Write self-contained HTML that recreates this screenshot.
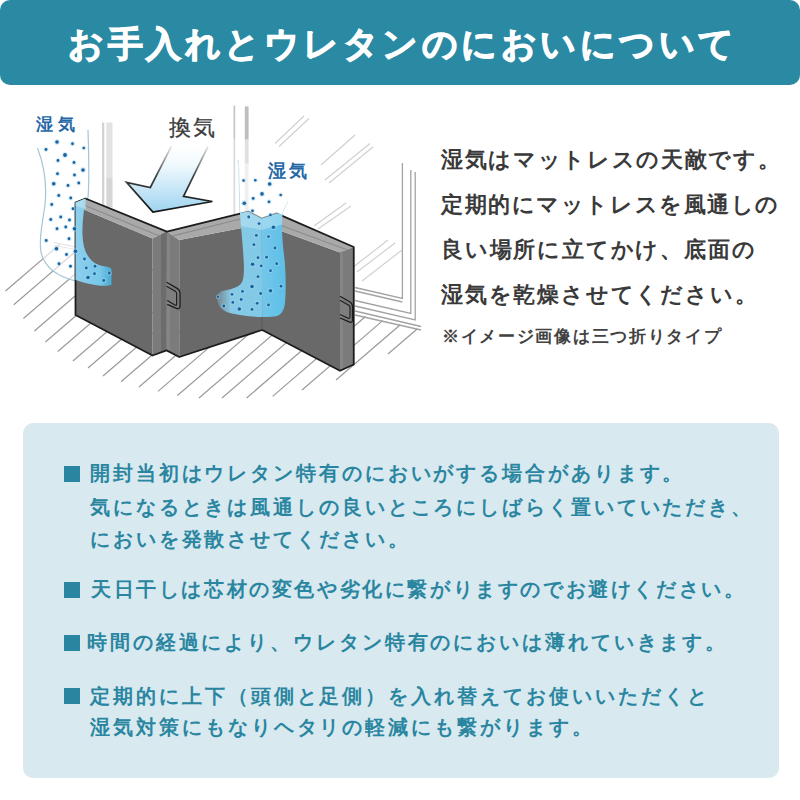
<!DOCTYPE html>
<html><head><meta charset="utf-8">
<style>
html,body{margin:0;padding:0;background:#fff;}
body{width:800px;height:800px;position:relative;overflow:hidden;font-family:"Liberation Sans",sans-serif;}
.hdr{position:absolute;left:0;top:0;width:800px;height:84.5px;background:#2a8aa4;border-radius:10px;}
.hdr .t{position:absolute;left:68px;top:23px;font-size:35px;line-height:42px;font-weight:bold;color:#fff;letter-spacing:3.5px;white-space:nowrap;-webkit-text-stroke:1.1px #fff;}
.desc{position:absolute;left:441px;white-space:nowrap;color:#3a3a3a;font-size:22px;line-height:26px;letter-spacing:2.3px;font-weight:bold;}
.note{position:absolute;left:442px;white-space:nowrap;color:#424242;font-size:17px;line-height:20px;letter-spacing:1.7px;font-weight:bold;}
.box{position:absolute;left:23px;top:423px;width:756px;height:355px;background:#d8e9f0;border-radius:10px;}
.ln{position:absolute;white-space:nowrap;color:#2a86a0;font-size:20px;line-height:24px;letter-spacing:2.4px;font-weight:bold;}
.sq{position:absolute;left:64px;width:16px;height:16px;background:#2a86a0;}
svg{position:absolute;left:0;top:0;}
</style></head><body>
<div class="hdr"><div class="t">お手入れとウレタンのにおいについて</div></div>

<svg width="440" height="420" viewBox="0 0 440 420" id="ill"><defs><linearGradient id="arrowG" x1="0" y1="0" x2="0" y2="1"><stop offset="0" stop-color="#fff"/><stop offset="0.3" stop-color="#eef8fd"/><stop offset="1" stop-color="#9fd4f0"/></linearGradient><linearGradient id="arrowS" gradientUnits="userSpaceOnUse" x1="0" y1="146" x2="0" y2="212"><stop offset="0" stop-color="#222" stop-opacity="0.1"/><stop offset="0.45" stop-color="#222" stop-opacity="0.85"/><stop offset="1" stop-color="#111"/></linearGradient><linearGradient id="vlineG" gradientUnits="userSpaceOnUse" x1="0" y1="100" x2="0" y2="215"><stop offset="0" stop-color="#bbb" stop-opacity="0"/><stop offset="0.35" stop-color="#bdbdbd"/><stop offset="1" stop-color="#aaa"/></linearGradient><linearGradient id="blueL" x1="0" y1="0" x2="1" y2="0"><stop offset="0" stop-color="#8fd4f2"/><stop offset="0.7" stop-color="#76cbee"/><stop offset="1" stop-color="#45b8e8" stop-opacity="0.85"/></linearGradient><linearGradient id="blueM" gradientUnits="userSpaceOnUse" x1="214" y1="0" x2="262" y2="0"><stop offset="0" stop-color="#8fd3f0" stop-opacity="0.1"/><stop offset="0.35" stop-color="#88cfec" stop-opacity="0.95"/><stop offset="1" stop-color="#80c9e6"/></linearGradient><linearGradient id="blueR" gradientUnits="userSpaceOnUse" x1="262" y1="0" x2="286" y2="0"><stop offset="0" stop-color="#74ccf0"/><stop offset="1" stop-color="#5cc3ee"/></linearGradient></defs><rect x="102" y="122.5" width="2.3" height="85" fill="#d2d2d2"/><rect x="106.3" y="122.5" width="6.2" height="55" fill="#e3e3e3"/><rect x="106.3" y="177.5" width="6.2" height="30" fill="#d6d6d6"/><rect x="233.5" y="105.6" width="1.7" height="33.5" fill="#c6c6c6"/><rect x="233.5" y="139" width="1.7" height="80" fill="#dadada"/><rect x="244.8" y="106.4" width="3.8" height="33.3" fill="#bebebe"/><rect x="244.8" y="139.7" width="3.8" height="80" fill="#e0e0e0"/><g stroke="#a3a3a3" stroke-width="1.3" fill="none"><polyline points="402.4,163 402.4,298.5 355,287.5"/><polyline points="355,291 402.4,302"/><polyline points="410.8,170 410.8,313.5 355,300.5"/><polyline points="415.2,172 415.2,320 355,306"/><polyline points="355,311 421,326.5"/><polyline points="355,315 421,330"/></g><g stroke="#cfcfcf" stroke-width="1.1"><line x1="275" y1="143.5" x2="304" y2="116"/><line x1="279" y1="146.5" x2="309" y2="118.5"/><line x1="321" y1="165" x2="355" y2="135"/><line x1="325" y1="180" x2="370" y2="143.5"/><line x1="329" y1="183" x2="373" y2="147"/><line x1="314" y1="226" x2="346" y2="203"/><line x1="318" y1="229" x2="351" y2="206"/><line x1="352" y1="268" x2="388" y2="240"/><line x1="357" y1="272" x2="395" y2="243"/><line x1="362" y1="281" x2="402" y2="250"/></g><g stroke="#999" stroke-width="1.15" fill="none"><line x1="5.5" y1="291" x2="59.7" y2="244.4"/><line x1="13.75" y1="304.75" x2="78.8" y2="248.8"/><line x1="23.4" y1="318.5" x2="98.9" y2="253.6"/><line x1="34.4" y1="331" x2="118.9" y2="258.3"/><line x1="45.4" y1="342" x2="137.6" y2="262.7"/><line x1="57.75" y1="351.5" x2="155.9" y2="267.1"/><line x1="72.9" y1="361" x2="176.5" y2="271.9"/><line x1="88" y1="368" x2="194.7" y2="276.2"/><line x1="103" y1="376" x2="213.8" y2="280.7"/><line x1="121" y1="381.75" x2="233.2" y2="285.3"/><line x1="139" y1="387" x2="252.1" y2="289.8"/><line x1="158" y1="391.4" x2="271.0" y2="294.2"/><line x1="177.4" y1="395.5" x2="290.0" y2="298.7"/><line x1="199" y1="398" x2="309.2" y2="303.2"/><line x1="222" y1="398" x2="327.2" y2="307.5"/><line x1="246.6" y1="398" x2="346.5" y2="312.0"/><line x1="272.6" y1="396.4" x2="365.5" y2="316.5"/><line x1="302" y1="390" x2="382.7" y2="320.6"/><line x1="336" y1="380" x2="400.3" y2="324.7"/><line x1="388" y1="354" x2="417.4" y2="328.8"/></g><line x1="54" y1="242.5" x2="76" y2="247" stroke="#aaa" stroke-width="0.9"/><line x1="54" y1="245.6" x2="76" y2="249.5" stroke="#bbb" stroke-width="0.9"/><path d="M37.5,148 C44,165 47,185 45,205 C42,225 39,240 41,252 C44,266 55,276 76,281 L76,203 L88,198 C89,185 89,160 88,130" fill="#fff" fill-opacity="0.6" stroke="#a2c6d8" stroke-width="1.2"/><rect x="30" y="125" width="65" height="22" fill="#fff" opacity="0.0"/><path d="M171.3,146.4 L150.3,187.5 L126.6,182.3 L152.9,212 L212.4,201.5 L183.5,196.3 L208,146.4 Z" fill="url(#arrowG)"/><path d="M171.3,146.4 L150.3,187.5 L126.6,182.3 L152.9,212 L212.4,201.5 L183.5,196.3 L208,146.4" fill="none" stroke="url(#arrowS)" stroke-width="1.7" stroke-linejoin="miter"/><path d="M75.5,206 L152.5,238.4 L152.5,355.5 L75.5,315 Z" fill="#696969"/><path d="M75.5,202.5 L85.5,198.5 L166.9,231.6 L152.5,238.4 L75.5,206 Z" fill="#a9a9a9"/><path d="M80,203.5 L159,235.8" stroke="#8d8d8d" stroke-width="1.2"/><path d="M152.5,238.4 L166.9,231.6 L166.6,350.4 L152.5,355.5 Z" fill="#7b7b7b"/><path d="M161,234.4 L166.9,231.6 L166.6,350.4 L161,352.5 Z" fill="#6c6c6c"/><path d="M166.9,231.6 L179.3,240 L179.3,357 L166.6,350.4 Z" fill="#7b7b7b"/><path d="M166.9,231.6 L170,233.7 L170,352 L166.6,350.4 Z" fill="#858585"/><path d="M179.3,240 L262,224 L262.2,330 L179.3,357 Z" fill="#696969"/><path d="M166.9,231.6 L248.2,211.6 L261.75,218.6 L262,224 L179.3,240 Z" fill="#a9a9a9"/><path d="M173,235.8 L254.5,215.5" stroke="#8d8d8d" stroke-width="1.2"/><path d="M262,224 L340,252.5 L340,370.75 L262.2,330 Z" fill="#696969"/><path d="M261.75,218.6 L276.6,213.4 L353.75,247 L340,252.5 L262,224 Z" fill="#a9a9a9"/><path d="M269,221 L347,249.8" stroke="#8d8d8d" stroke-width="1.2"/><path d="M340,252.5 L353.75,247 L353.75,364.5 L340,370.75 Z" fill="#7b7b7b"/><path d="M340,252.5 L343,251.3 L343,369.4 L340,370.75 Z" fill="#858585"/><path d="M75.5,315 L75.5,202.5 L85.5,198.5 L166.9,231.6 L248.2,211.6 L261.75,218.6 L276.6,213.4 L353.75,247 L353.75,364.5 L340,370.75 L262.2,330 L179.3,357 L166.6,350.4 L152.5,355.5 Z" fill="none" stroke="#1c1c1c" stroke-width="1.8" stroke-linejoin="round"/><path d="M262,224 L262.2,330" stroke="#4a4a4a" stroke-width="0.8"/><path d="M167,286.5 L175.5,291.5 L176.5,292.5 L176.5,305 L167,300.8 Z" fill="#7e7e7e"/><path d="M166.6,282.2 L177.5,288.6 Q180,290.2 180,293 L180,306 Q180,309 177,308.6 L167.2,304.4" fill="none" stroke="#1c1c1c" stroke-width="1.3"/><path d="M166.6,286.3 L175.3,291.2 Q176.6,292 176.6,293.5 L176.6,304.5 Q176.6,305.6 175.4,305.2 L167.2,300.6" fill="none" stroke="#1c1c1c" stroke-width="1.1"/><path d="M340,300.3 L349,305 L350,306 L350,318 L340,314.5 Z" fill="#7e7e7e"/><path d="M340,296.3 L349.6,301.8 Q352.5,303.5 352.5,306.5 L352.5,320 Q352.5,323 349.8,322.2 L340,318" fill="none" stroke="#1c1c1c" stroke-width="1.3"/><path d="M340,300.3 L348.4,305 Q350,306 350,307.5 L350,316.8 Q350,318.8 348.2,318.2 L340,314.5" fill="none" stroke="#1c1c1c" stroke-width="1.1"/><path d="M75.5,202.5 L85.5,198.5 C84,210 82,222 82.5,235 C83,250 88,261 99,265 C105,267 110,266.5 111.5,269 L111.5,285 C105,287 90,285 75.5,280 Z" fill="url(#blueL)" fill-opacity="0.96"/><path d="M75.5,202.5 L85.5,198.5 L86,209 L75.5,206 Z" fill="#bfe3f3" fill-opacity="0.6"/><path d="M238,160 C240,180 239,200 240,213 M288,201 C286,206 283,210 282,214.6" fill="none" stroke="#b8d6e4" stroke-width="0.9"/><path d="M238,162 C240,185 239.5,203 240,213 L248.2,211.6 L261.75,218.6 L276.6,213.4 L282.4,215.5 C284,208 288,203 290,198 L290,170 Z" fill="#fff" fill-opacity="0.5"/><path d="M240,213 L248.2,211.6 L261.75,218.6 L262.2,317 C250,317 240,315 232,313.5 C224,312 219.5,308 218,303 C216,297 216,294 222,291 C230,289.5 238,288 241.5,283 C245,277 244,265 243,250 C242,235 240.5,222 240,213 Z" fill="url(#blueM)"/><path d="M261.75,218.6 L276.6,213.4 L282.4,214.6 C281.5,225 282,240 284.6,260 C286,275 286,292 285,303 C284,312 280,316 274,316.5 C270,317 266,317 262.2,317 Z" fill="url(#blueR)" fill-opacity="0.95"/><path d="M240,213 L248.2,211.6 L261.75,218.6 L276.6,213.4 L282.4,214.6 L282,224.5 L262,230 L241,226 Z" fill="#c7e8f6" fill-opacity="0.45"/><g fill="#a8d8f0" fill-opacity="0.45"><circle cx="57" cy="142" r="2.9000000000000004"/><circle cx="72.5" cy="143.75" r="2.5"/><circle cx="46" cy="149.5" r="2.5"/><circle cx="83.75" cy="148" r="2.4000000000000004"/><circle cx="65" cy="155" r="3.0"/><circle cx="58" cy="160.5" r="2.5"/><circle cx="74" cy="162.5" r="2.5"/><circle cx="83" cy="170" r="2.9000000000000004"/><circle cx="57.5" cy="173.75" r="2.5"/><circle cx="74.5" cy="175" r="2.5"/><circle cx="53.75" cy="183.75" r="2.9000000000000004"/><circle cx="68" cy="185.5" r="2.5"/><circle cx="78.75" cy="183" r="2.5"/><circle cx="58.75" cy="195.5" r="2.5"/><circle cx="70.75" cy="198" r="2.5"/><circle cx="51.75" cy="204.5" r="2.5"/><circle cx="73" cy="208.75" r="2.5"/><circle cx="60.75" cy="217" r="2.5"/><circle cx="50.75" cy="219.5" r="2.5"/><circle cx="69.5" cy="220" r="2.5"/><circle cx="65.75" cy="227" r="2.5"/><circle cx="57" cy="228.75" r="2.5"/><circle cx="74.5" cy="228.75" r="2.9000000000000004"/><circle cx="69" cy="238.75" r="2.5"/><circle cx="46.25" cy="240.5" r="2.5"/><circle cx="56.5" cy="248.75" r="2.9000000000000004"/><circle cx="75.5" cy="251.25" r="2.9000000000000004"/><circle cx="66.5" cy="254.5" r="2.5"/><circle cx="59" cy="263.75" r="2.5"/><circle cx="70.5" cy="266.25" r="2.5"/><circle cx="84.5" cy="259" r="2.5"/><circle cx="86.25" cy="268" r="2.5"/><circle cx="95" cy="266.25" r="2.5"/><circle cx="94.5" cy="273.75" r="2.5"/><circle cx="88" cy="277.5" r="2.9000000000000004"/><circle cx="103.75" cy="280.5" r="2.5"/><circle cx="109.25" cy="273" r="2.5"/><circle cx="243.6" cy="180.5" r="2.4000000000000004"/><circle cx="255.3" cy="180.2" r="2.4000000000000004"/><circle cx="269.7" cy="184" r="2.9000000000000004"/><circle cx="262" cy="193.9" r="2.9000000000000004"/><circle cx="253.2" cy="198.4" r="2.5"/><circle cx="244.3" cy="203.2" r="2.9000000000000004"/><circle cx="269" cy="201.8" r="2.5"/><circle cx="280.7" cy="195" r="2.4000000000000004"/><circle cx="252.5" cy="210.8" r="2.5"/><circle cx="270.4" cy="214.9" r="2.4000000000000004"/><circle cx="248.7" cy="217" r="2.5"/><circle cx="259.1" cy="223.6" r="2.5"/><circle cx="273.4" cy="227.3" r="2.9000000000000004"/><circle cx="256.3" cy="235.4" r="2.5"/><circle cx="268.5" cy="236.6" r="2.5"/><circle cx="253.9" cy="244.7" r="2.5"/><circle cx="275" cy="248" r="2.5"/><circle cx="258" cy="257.7" r="2.5"/><circle cx="266.6" cy="257.2" r="2.5"/><circle cx="252.6" cy="264.2" r="2.9000000000000004"/><circle cx="261.2" cy="265.9" r="2.5"/><circle cx="276.7" cy="263.7" r="2.5"/><circle cx="270.5" cy="270.7" r="2.5"/><circle cx="258" cy="276.7" r="2.5"/><circle cx="281" cy="286.2" r="2.5"/><circle cx="252" cy="286.5" r="2.9000000000000004"/><circle cx="270.5" cy="290.7" r="2.9000000000000004"/><circle cx="232" cy="294.3" r="2.5"/><circle cx="242.5" cy="291.4" r="2.5"/><circle cx="260.7" cy="293.5" r="2.5"/><circle cx="218.1" cy="296.7" r="2.3"/><circle cx="241.2" cy="299.5" r="2.5"/><circle cx="232.8" cy="302.4" r="2.5"/><circle cx="257.2" cy="303.3" r="2.5"/><circle cx="223.8" cy="306" r="2.5"/><circle cx="268.5" cy="304.9" r="2.5"/><circle cx="239.3" cy="309" r="2.9000000000000004"/><circle cx="252" cy="309.4" r="2.5"/></g><g fill="#1a62a0"><circle cx="57" cy="142" r="1.8"/><circle cx="72.5" cy="143.75" r="1.4"/><circle cx="46" cy="149.5" r="1.4"/><circle cx="83.75" cy="148" r="1.3"/><circle cx="65" cy="155" r="1.9"/><circle cx="58" cy="160.5" r="1.4"/><circle cx="74" cy="162.5" r="1.4"/><circle cx="83" cy="170" r="1.8"/><circle cx="57.5" cy="173.75" r="1.4"/><circle cx="74.5" cy="175" r="1.4"/><circle cx="53.75" cy="183.75" r="1.8"/><circle cx="68" cy="185.5" r="1.4"/><circle cx="78.75" cy="183" r="1.4"/><circle cx="58.75" cy="195.5" r="1.4"/><circle cx="70.75" cy="198" r="1.4"/><circle cx="51.75" cy="204.5" r="1.4"/><circle cx="73" cy="208.75" r="1.4"/><circle cx="60.75" cy="217" r="1.4"/><circle cx="50.75" cy="219.5" r="1.4"/><circle cx="69.5" cy="220" r="1.4"/><circle cx="65.75" cy="227" r="1.4"/><circle cx="57" cy="228.75" r="1.4"/><circle cx="74.5" cy="228.75" r="1.8"/><circle cx="69" cy="238.75" r="1.4"/><circle cx="46.25" cy="240.5" r="1.4"/><circle cx="56.5" cy="248.75" r="1.8"/><circle cx="75.5" cy="251.25" r="1.8"/><circle cx="66.5" cy="254.5" r="1.4"/><circle cx="59" cy="263.75" r="1.4"/><circle cx="70.5" cy="266.25" r="1.4"/><circle cx="84.5" cy="259" r="1.4"/><circle cx="86.25" cy="268" r="1.4"/><circle cx="95" cy="266.25" r="1.4"/><circle cx="94.5" cy="273.75" r="1.4"/><circle cx="88" cy="277.5" r="1.8"/><circle cx="103.75" cy="280.5" r="1.4"/><circle cx="109.25" cy="273" r="1.4"/><circle cx="243.6" cy="180.5" r="1.3"/><circle cx="255.3" cy="180.2" r="1.3"/><circle cx="269.7" cy="184" r="1.8"/><circle cx="262" cy="193.9" r="1.8"/><circle cx="253.2" cy="198.4" r="1.4"/><circle cx="244.3" cy="203.2" r="1.8"/><circle cx="269" cy="201.8" r="1.4"/><circle cx="280.7" cy="195" r="1.3"/><circle cx="252.5" cy="210.8" r="1.4"/><circle cx="270.4" cy="214.9" r="1.3"/><circle cx="248.7" cy="217" r="1.4"/><circle cx="259.1" cy="223.6" r="1.4"/><circle cx="273.4" cy="227.3" r="1.8"/><circle cx="256.3" cy="235.4" r="1.4"/><circle cx="268.5" cy="236.6" r="1.4"/><circle cx="253.9" cy="244.7" r="1.4"/><circle cx="275" cy="248" r="1.4"/><circle cx="258" cy="257.7" r="1.4"/><circle cx="266.6" cy="257.2" r="1.4"/><circle cx="252.6" cy="264.2" r="1.8"/><circle cx="261.2" cy="265.9" r="1.4"/><circle cx="276.7" cy="263.7" r="1.4"/><circle cx="270.5" cy="270.7" r="1.4"/><circle cx="258" cy="276.7" r="1.4"/><circle cx="281" cy="286.2" r="1.4"/><circle cx="252" cy="286.5" r="1.8"/><circle cx="270.5" cy="290.7" r="1.8"/><circle cx="232" cy="294.3" r="1.4"/><circle cx="242.5" cy="291.4" r="1.4"/><circle cx="260.7" cy="293.5" r="1.4"/><circle cx="218.1" cy="296.7" r="1.2"/><circle cx="241.2" cy="299.5" r="1.4"/><circle cx="232.8" cy="302.4" r="1.4"/><circle cx="257.2" cy="303.3" r="1.4"/><circle cx="223.8" cy="306" r="1.4"/><circle cx="268.5" cy="304.9" r="1.4"/><circle cx="239.3" cy="309" r="1.8"/><circle cx="252" cy="309.4" r="1.4"/></g><text x="36" y="130" font-size="17" font-weight="bold" fill="#2468a6" letter-spacing="5.3" font-family="Liberation Sans, sans-serif">湿気</text><text x="168.5" y="135" font-size="22" fill="#3b3b3b" stroke="#3b3b3b" stroke-width="0.3" letter-spacing="2.5" font-family="Liberation Sans, sans-serif">換気</text><text x="267.5" y="176.5" font-size="18" font-weight="bold" fill="#2468a6" letter-spacing="3.5" font-family="Liberation Sans, sans-serif">湿気</text></svg>

<div class="desc" style="top:147px;letter-spacing:1.67px">湿気はマットレスの天敵です。</div>
<div class="desc" style="top:192px;letter-spacing:1.57px">定期的にマットレスを風通しの</div>
<div class="desc" style="top:237px;letter-spacing:1.8px">良い場所に立てかけ、底面の</div>
<div class="desc" style="top:282px;letter-spacing:1.8px">湿気を乾燥させてください。</div>
<div class="note" style="top:326.5px">※イメージ画像は三つ折りタイプ</div>

<div class="box"></div>
<div class="sq" style="top:466px"></div>
<div class="ln" style="left:90px;top:460.5px;letter-spacing:2.9px">開封当初はウレタン特有のにおいがする場合があります。</div>
<div class="ln" style="left:90px;top:494.5px;letter-spacing:2.9px">気になるときは風通しの良いところにしばらく置いていただき、</div>
<div class="ln" style="left:90px;top:527px;letter-spacing:2.9px">においを発散させてください。</div>
<div class="sq" style="top:582px"></div>
<div class="ln" style="left:91px;top:577px;letter-spacing:2.6px">天日干しは芯材の変色や劣化に繋がりますのでお避けください。</div>
<div class="sq" style="top:635px"></div>
<div class="ln" style="left:87px;top:629.5px;letter-spacing:2.9px">時間の経過により、ウレタン特有のにおいは薄れていきます。</div>
<div class="sq" style="top:688px"></div>
<div class="ln" style="left:90px;top:684px;letter-spacing:2.95px">定期的に上下（頭側と足側）を入れ替えてお使いいただくと</div>
<div class="ln" style="left:90px;top:715px;letter-spacing:2.95px">湿気対策にもなりヘタリの軽減にも繋がります。</div>
</body></html>
